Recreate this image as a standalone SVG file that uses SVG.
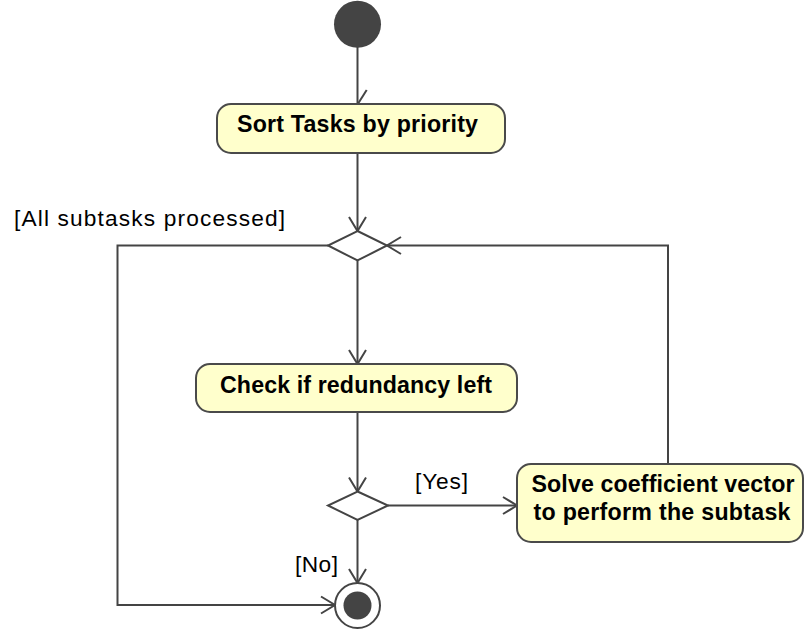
<svg xmlns="http://www.w3.org/2000/svg" width="805" height="634" viewBox="0 0 805 634">
  <defs>
    <marker id="open-arrow" viewBox="0 0 20 20" refX="16" refY="10" markerWidth="20" markerHeight="20" markerUnits="userSpaceOnUse" orient="auto">
      <path d="M2,1.5 L16,10 L2,18.5" fill="none" stroke="#444" stroke-width="2"/>
    </marker>
  </defs>
  <style>
    .action { fill: #ffffcc; stroke: #4a4a4a; stroke-width: 2; }
    .action-label { font-family: "Liberation Sans", Arial, sans-serif; font-size: 23.2px; font-weight: bold; fill: #000; text-anchor: middle; }
    .guard { font-family: "Liberation Sans", Arial, sans-serif; font-size: 22.7px; fill: #000; }
    .flow { fill: none; stroke: #444; stroke-width: 2; }
    .decision { fill: #fff; stroke: #444; stroke-width: 2; }
  </style>

  <!-- control flows -->
  <g id="connectors">
    <line class="flow" x1="357.5" y1="47" x2="357.5" y2="104"/>
    <path class="flow" d="M358.3,103.3 L366.7,90"/>
    <line class="flow" x1="357.5" y1="153" x2="357.5" y2="231" marker-end="url(#open-arrow)"/>
    <line class="flow" x1="357.5" y1="260.5" x2="357.5" y2="364" marker-end="url(#open-arrow)"/>
    <line class="flow" x1="357.5" y1="412" x2="357.5" y2="491.5" marker-end="url(#open-arrow)"/>
    <line class="flow" x1="388" y1="505.5" x2="517" y2="505.5" marker-end="url(#open-arrow)"/>
    <line class="flow" x1="357.5" y1="520" x2="357.5" y2="583" marker-end="url(#open-arrow)"/>
    <polyline class="flow" points="668,464 668,245.5 387,245.5" marker-end="url(#open-arrow)"/>
    <polyline class="flow" points="328,245.5 117.5,245.5 117.5,605 335,605" marker-end="url(#open-arrow)"/>
    <text class="guard" x="14" y="226" textLength="271" lengthAdjust="spacing">[All subtasks processed]</text>
    <text class="guard" x="415" y="489" textLength="53" lengthAdjust="spacing">[Yes]</text>
    <text class="guard" x="295" y="572" textLength="43" lengthAdjust="spacing">[No]</text>
  </g>

  <g id="start">
    <circle cx="357.5" cy="24.3" r="23.5" fill="#444"/>
  </g>

  <g id="sort-tasks">
    <rect class="action" x="217" y="104" width="288" height="49" rx="14" ry="14"/>
    <text class="action-label" x="357.5" y="131.5" textLength="241" lengthAdjust="spacing">Sort Tasks by priority</text>
  </g>

  <g id="merge">
    <polygon class="decision" points="357.5,231 387,245.5 357.5,260.5 328,245.5"/>
  </g>

  <g id="check-redundancy">
    <rect class="action" x="196" y="364" width="321" height="48" rx="14" ry="14"/>
    <text class="action-label" x="356" y="392.5" textLength="272" lengthAdjust="spacing">Check if redundancy left</text>
  </g>

  <g id="redundancy-decision">
    <polygon class="decision" points="357.5,491.5 388,505.5 357.5,520 328,505.5"/>
  </g>

  <g id="solve-vector">
    <rect class="action" x="517" y="464" width="286" height="78" rx="14" ry="14"/>
    <text class="action-label" x="663" y="491.5" textLength="263" lengthAdjust="spacing">Solve coefficient vector</text>
    <text class="action-label" x="662" y="520" textLength="257" lengthAdjust="spacing">to perform the subtask</text>
  </g>

  <g id="end">
    <circle cx="357.5" cy="605.5" r="22.5" fill="#fff" stroke="#444" stroke-width="2"/>
    <circle cx="357.5" cy="605.5" r="14" fill="#444"/>
  </g>
</svg>
